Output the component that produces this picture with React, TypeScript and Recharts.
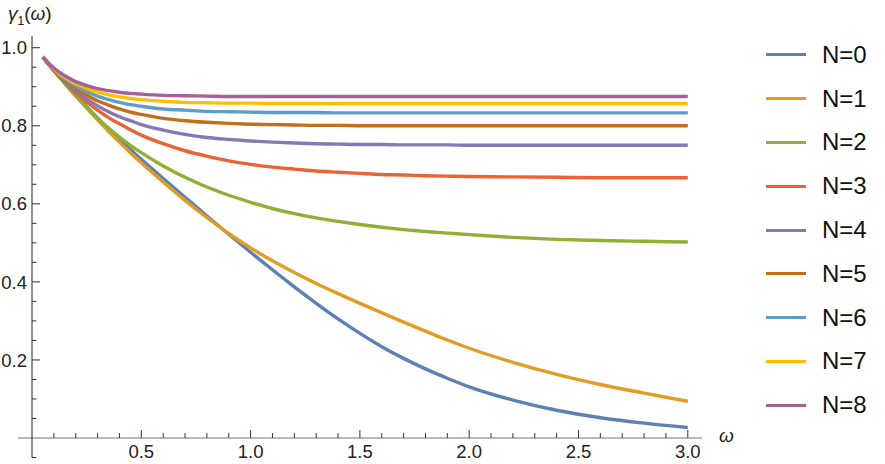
import { LineChart, Line, XAxis, YAxis, ReferenceLine } from "recharts";

// frequency samples (ω)
const omega = [0.05, 0.1, 0.15, 0.2, 0.25, 0.3, 0.35, 0.4, 0.45, 0.5, 0.6, 0.7, 0.8, 0.9, 1.0, 1.1, 1.2, 1.3, 1.4, 1.5, 1.6, 1.7, 1.8, 1.9, 2.0, 2.2, 2.4, 2.6, 2.8, 3.0];

// γ1(ω), one list per N
const gN0 = [0.975, 0.942, 0.910, 0.879, 0.849, 0.820, 0.792, 0.765, 0.739, 0.714, 0.665, 0.617, 0.569, 0.522, 0.476, 0.431, 0.387, 0.345, 0.305, 0.268, 0.234, 0.204, 0.177, 0.153, 0.131, 0.097, 0.071, 0.052, 0.038, 0.027];
const gN1 = [0.978, 0.942, 0.908, 0.876, 0.845, 0.815, 0.786, 0.758, 0.731, 0.705, 0.656, 0.609, 0.565, 0.524, 0.487, 0.454, 0.424, 0.396, 0.370, 0.345, 0.321, 0.297, 0.274, 0.251, 0.230, 0.194, 0.163, 0.137, 0.115, 0.094];
const gN2 = [0.975, 0.941, 0.909, 0.878, 0.848, 0.819, 0.794, 0.771, 0.750, 0.731, 0.697, 0.668, 0.643, 0.622, 0.604, 0.588, 0.575, 0.564, 0.555, 0.547, 0.540, 0.534, 0.529, 0.525, 0.521, 0.514, 0.509, 0.506, 0.504, 0.502];
const gN3 = [0.975, 0.941, 0.912, 0.885, 0.861, 0.840, 0.821, 0.805, 0.790, 0.776, 0.754, 0.736, 0.722, 0.710, 0.701, 0.694, 0.689, 0.684, 0.681, 0.678, 0.675, 0.674, 0.672, 0.671, 0.670, 0.669, 0.668, 0.667, 0.667, 0.667];
const gN4 = [0.975, 0.942, 0.913, 0.889, 0.869, 0.851, 0.836, 0.823, 0.813, 0.803, 0.789, 0.778, 0.770, 0.765, 0.761, 0.758, 0.756, 0.754, 0.753, 0.752, 0.752, 0.751, 0.751, 0.751, 0.750, 0.750, 0.750, 0.750, 0.750, 0.750];
const gN5 = [0.975, 0.943, 0.917, 0.896, 0.879, 0.864, 0.853, 0.843, 0.835, 0.829, 0.819, 0.813, 0.809, 0.806, 0.804, 0.803, 0.802, 0.801, 0.801, 0.800, 0.800, 0.800, 0.800, 0.800, 0.800, 0.800, 0.800, 0.800, 0.800, 0.800];
const gN6 = [0.975, 0.945, 0.921, 0.902, 0.888, 0.876, 0.867, 0.860, 0.854, 0.850, 0.843, 0.840, 0.837, 0.836, 0.835, 0.834, 0.834, 0.834, 0.833, 0.833, 0.833, 0.833, 0.833, 0.833, 0.833, 0.833, 0.833, 0.833, 0.833, 0.833];
const gN7 = [0.975, 0.946, 0.924, 0.908, 0.896, 0.886, 0.879, 0.874, 0.870, 0.867, 0.863, 0.860, 0.859, 0.858, 0.858, 0.857, 0.857, 0.857, 0.857, 0.857, 0.857, 0.857, 0.857, 0.857, 0.857, 0.857, 0.857, 0.857, 0.857, 0.857];
const gN8 = [0.975, 0.948, 0.928, 0.913, 0.903, 0.895, 0.890, 0.886, 0.883, 0.881, 0.878, 0.877, 0.876, 0.875, 0.875, 0.875, 0.875, 0.875, 0.875, 0.875, 0.875, 0.875, 0.875, 0.875, 0.875, 0.875, 0.875, 0.875, 0.875, 0.875];

const seriesNames = ["N=0", "N=1", "N=2", "N=3", "N=4", "N=5", "N=6", "N=7", "N=8"];
const seriesValues = [gN0, gN1, gN2, gN3, gN4, gN5, gN6, gN7, gN8];
const colors = ["#5E81B5", "#E19C24", "#8FB032", "#EB6235", "#8778B3", "#C56E1A", "#5D9EC7", "#FFBF00", "#A5609D"];

const xTicks = [0.1, 0.2, 0.3, 0.4, 0.5, 0.6, 0.7, 0.8, 0.9, 1.0, 1.1, 1.2, 1.3, 1.4, 1.5, 1.6, 1.7, 1.8, 1.9, 2.0, 2.1, 2.2, 2.3, 2.4, 2.5, 2.6, 2.7, 2.8, 2.9, 3.0];
const yTicks = [0.05, 0.1, 0.15, 0.2, 0.25, 0.3, 0.35, 0.4, 0.45, 0.5, 0.55, 0.6, 0.65, 0.7, 0.75, 0.8, 0.85, 0.9, 0.95, 1.0];

const data = omega.map((w, i) => {
  const row: any = { w };
  seriesValues.forEach((s, k) => {
    row["n" + k] = s[i];
  });
  return row;
});

const FONT = '"Liberation Sans", Arial, sans-serif';

const isMajor = (v: number, step: number) => Math.abs(v / step - Math.round(v / step)) < 1e-6;

const XTick = (props: any) => {
  const { x, y, payload } = props;
  const major = isMajor(payload.value, 0.5);
  return (
    <g>
      <line x1={x} x2={x} y1={y} y2={y - (major ? 8 : 5)} stroke="#333" strokeWidth={1} />
      {major && (
        <text x={x} y={y + 20} textAnchor="middle" fontSize={18.5} fill="#222" fontFamily={FONT}>
          {payload.value.toFixed(1)}
        </text>
      )}
    </g>
  );
};

const YTick = (props: any) => {
  const { x, y, payload } = props;
  const major = isMajor(payload.value, 0.2);
  return (
    <g>
      <line x1={x} x2={x + (major ? 8 : 4.5)} y1={y} y2={y} stroke="#333" strokeWidth={1} />
      {major && (
        <text x={x - 5} y={y} dy="0.36em" textAnchor="end" fontSize={18.5} fill="#222" fontFamily={FONT}>
          {payload.value.toFixed(1)}
        </text>
      )}
    </g>
  );
};

export default function App() {
  return (
    <div style={{ position: "absolute", left: 0, top: 0, width: 885, height: 464, background: "#fff" }}>
      <LineChart width={885} height={464} data={data} margin={{ top: 36, right: 183, bottom: 0, left: 0 }}>
        <XAxis
          dataKey="w"
          type="number"
          domain={[0, 3.065]}
          ticks={xTicks}
          interval={0}
          tickSize={0}
          tickMargin={0}
          axisLine={false}
          tickLine={false}
          tick={<XTick />}
          height={26}
        />
        <YAxis
          type="number"
          domain={[0, 1.03]}
          ticks={yTicks}
          interval={0}
          tickSize={0}
          tickMargin={0}
          axisLine={false}
          tickLine={false}
          tick={<YTick />}
          width={32}
        />
        <ReferenceLine
          segment={[{ x: -0.064, y: 0 }, { x: 3.065, y: 0 }]}
          stroke="#777"
          strokeWidth={1.2}
          ifOverflow="visible"
        />
        <ReferenceLine
          segment={[{ x: 0, y: -0.05 }, { x: 0, y: 1.03 }]}
          stroke="#222"
          strokeWidth={1}
          ifOverflow="visible"
        />
        <ReferenceLine
          segment={[{ x: 0, y: -0.05 }, { x: 0.02, y: -0.05 }]}
          stroke="#333"
          strokeWidth={1}
          ifOverflow="visible"
        />
        {seriesNames.map((name, k) => (
          <Line
            key={name}
            name={name}
            dataKey={"n" + k}
            type="monotone"
            stroke={colors[k]}
            strokeWidth={3.4}
            dot={false}
            isAnimationActive={false}
          />
        ))}
      </LineChart>

      <div style={{ position: "absolute", left: 8, top: 3, fontFamily: FONT, fontSize: 19, color: "#222" }}>
        <i>γ</i>
        <sub style={{ fontSize: 12 }}>1</sub>(<i>ω</i>)
      </div>
      <div style={{ position: "absolute", left: 719, top: 425, fontFamily: FONT, fontSize: 19, color: "#222" }}>
        <i>ω</i>
      </div>

      <div style={{ position: "absolute", left: 766, top: 33, fontFamily: FONT }}>
        {seriesNames.map((name, k) => (
          <div key={name} style={{ display: "flex", alignItems: "center", height: 43.8 }}>
            <div style={{ width: 40, height: 3, background: colors[k], marginRight: 16 }} />
            <span style={{ fontSize: 24, color: "#111" }}>{name}</span>
          </div>
        ))}
      </div>
    </div>
  );
}
